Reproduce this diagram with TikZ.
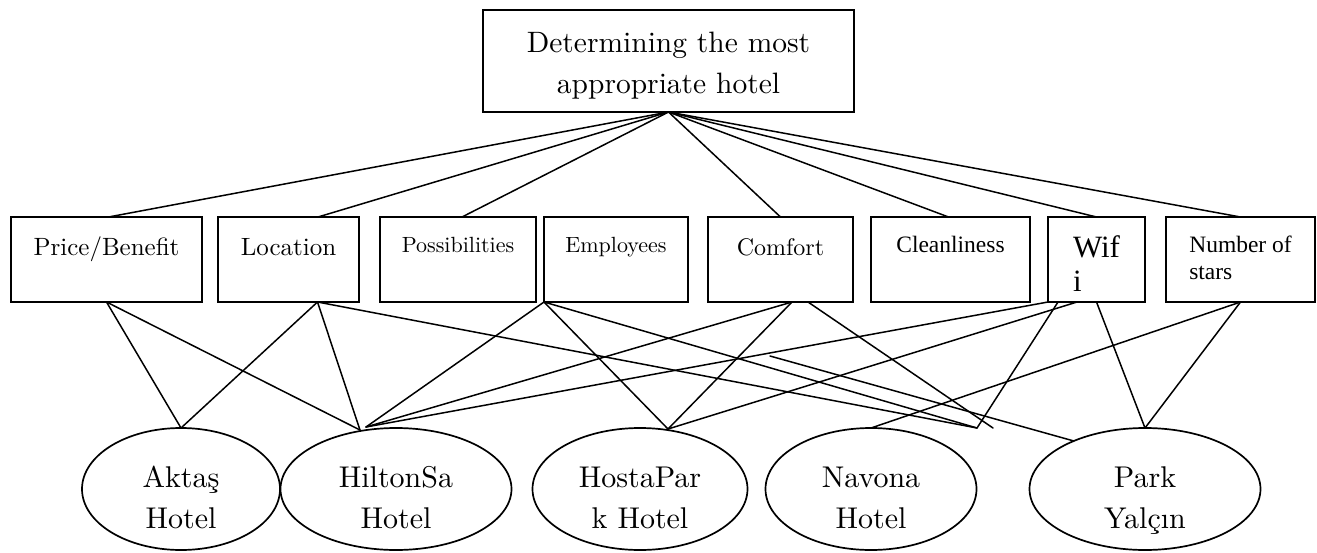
\documentclass[tikz,border=0pt]{standalone}
\usepackage{fontspec}
\setmainfont{lmroman10-regular.otf}
\newfontfamily\timesf{Liberation Serif}
\usetikzlibrary{shapes.geometric}
\newcommand\twoC[3]{\vtop{\baselineskip=#3\lineskiplimit=-\maxdimen\lineskip=0pt\halign{\hfil##\hfil\cr#1\cr#2\cr}}}
\newcommand\twoL[3]{\vtop{\baselineskip=#3\lineskiplimit=-\maxdimen\lineskip=0pt\halign{##\hfil\cr#1\cr#2\cr}}}
\newcommand\fsz[1]{\fontsize{#1}{1.2\dimexpr#1\relax}\selectfont}
\tikzset{
  boxnode/.style={draw, rectangle, line width=1.7pt, anchor=north west, inner sep=0pt, outer sep=0pt},
  tbase/.style 2 args={text height=#1, text depth=#2},
  hotel/.style={draw, ellipse, line width=1.7pt, inner sep=0pt, outer sep=0pt, minimum height=122pt,
    text height=26pt, text depth=30pt, font=\fsz{30pt}},
  conn/.style={line width=1.5pt, line cap=round}
}
\begin{document}
\begin{tikzpicture}[x=1pt, y=-1pt]
\useasboundingbox (0,0) rectangle (1317,552);
\fill[white] (0,0) rectangle (1317,552);
% goal
\node[boxnode, minimum width=371pt, tbase={42pt}{60pt}, font=\fsz{29.5pt}] (top) at (483,10)
  {\twoC{Determining the most}{appropriate hotel}{41pt}};
% criteria
\node[boxnode, minimum width=191pt, tbase={38pt}{47pt}, font=\fsz{25pt}] (price) at (11,217) {Price/Benefit};
\node[boxnode, minimum width=141pt, tbase={38pt}{47pt}, font=\fsz{25pt}] (location) at (218,217) {Location};
\node[boxnode, minimum width=156pt, tbase={35pt}{50pt}, font=\fsz{22pt}] (poss) at (380,217) {Possibilities};
\node[boxnode, minimum width=144pt, tbase={35pt}{50pt}, font=\fsz{22pt}] (empl) at (544,217) {Employees};
\node[boxnode, minimum width=145pt, tbase={38pt}{47pt}, font=\fsz{24pt}] (comfort) at (708,217) {Comfort};
\node[boxnode, minimum width=159pt, tbase={35pt}{50pt}, font=\timesf\fsz{23.5pt}] (clean) at (871,217) {Cleanliness};
\node[boxnode, minimum width=97pt, tbase={40pt}{45pt}, font=\timesf\fsz{31pt}] (wifi) at (1048,217) {\twoL{Wif}{i}{34pt}};
\node[boxnode, minimum width=149pt, tbase={35pt}{50pt}, font=\timesf\fsz{23.5pt}] (stars) at (1166,217) {\twoL{Number of}{stars}{27pt}};
% alternatives
\node[hotel, minimum width=198pt] (aktas) at (181,489) {\twoC{Aktaş}{Hotel}{41pt}};
\node[hotel, minimum width=231pt] (hilton) at (396,489) {\twoC{HiltonSa}{Hotel}{41pt}};
\node[hotel, minimum width=215pt] (hosta) at (640,489) {\twoC{HostaPar}{k Hotel}{41pt}};
\node[hotel, minimum width=211pt] (navona) at (871,489) {\twoC{Navona}{Hotel}{41pt}};
\node[hotel, minimum width=231pt] (park) at (1145,489) {\twoC{Park}{Yalçın}{41pt}};
% free ends
\coordinate (H1) at (360,430);
\coordinate (H2) at (366,427);
\coordinate (HP) at (668,429);
\coordinate (V1) at (977,428);
\coordinate (V2) at (993,428);
\coordinate (F) at (770,356);
% goal to criteria
\draw[conn] (top.south) -- ([xshift=2pt]price.north);
\draw[conn] (top.south) -- ([xshift=29.5pt]location.north);
\draw[conn] (top.south) -- ([xshift=4pt]poss.north);
\draw[conn] (top.south) -- (comfort.north);
\draw[conn] (top.south) -- ([xshift=-2pt]clean.north);
\draw[conn] (top.south) -- (wifi.north);
\draw[conn] (top.south) -- (stars.north);
% criteria to alternatives
\draw[conn] (price.south) -- (aktas.north);
\draw[conn] (price.south) -- (H1);
\draw[conn] ([xshift=29pt]location.south) -- (aktas.north);
\draw[conn] ([xshift=29pt]location.south) -- (H1);
\draw[conn] ([xshift=29pt]location.south) -- (V1);
\draw[conn] (empl.south west) -- (H2);
\draw[conn] (empl.south west) -- (HP);
\draw[conn] (empl.south west) -- (V1);
\draw[conn] ([xshift=11.5pt]comfort.south) -- (H2);
\draw[conn] ([xshift=11.5pt]comfort.south) -- (HP);
\draw[conn] ([xshift=27.5pt]comfort.south) -- (V2);
\draw[conn] (wifi.south west) -- (H2);
\draw[conn] ([xshift=10pt]wifi.south west) -- (V1);
\draw[conn] ([xshift=29pt]wifi.south west) -- (HP);
\draw[conn] (wifi.south) -- (park.north);
\draw[conn] (stars.south) -- (park.north);
\draw[conn] (stars.south) -- (navona.north);
\draw[conn] (F) -- (park.146);
\end{tikzpicture}
\end{document}
